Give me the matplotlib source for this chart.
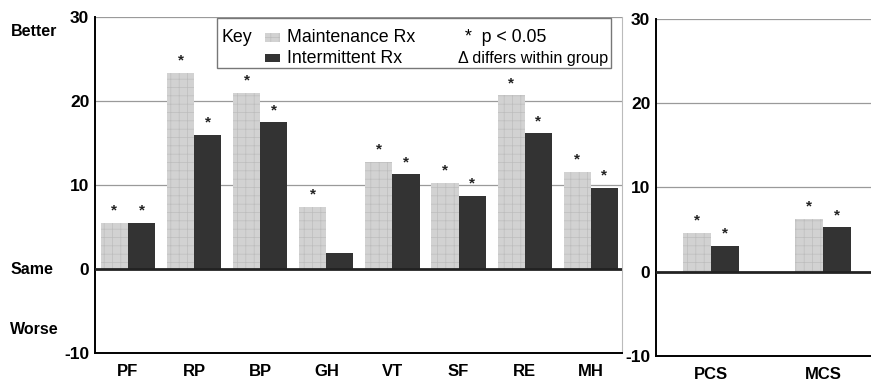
import numpy as np
import matplotlib
matplotlib.use("Agg")
import matplotlib.pyplot as plt
from matplotlib.patches import Rectangle

plt.rcParams['font.family'] = ['Liberation Sans', 'DejaVu Sans']
plt.rcParams['hatch.linewidth'] = 0.5
plt.rcParams['axes.unicode_minus'] = False

# ---------------------------------------------------------------------------
# Data
# ---------------------------------------------------------------------------
scales = ["PF", "RP", "BP", "GH", "VT", "SF", "RE", "MH"]
maint_scales = [5.5, 23.4, 21.0, 7.4, 12.8, 10.3, 20.7, 11.6]
interm_scales = [5.5, 16.0, 17.5, 1.9, 11.3, 8.7, 16.2, 9.7]
maint_sig_scales = [True, True, True, True, True, True, True, True]
interm_sig_scales = [True, True, True, False, True, True, True, True]

summary = ["PCS", "MCS"]
maint_summary = [4.6, 6.3]
interm_summary = [3.1, 5.3]
maint_sig_summary = [True, True]
interm_sig_summary = [True, True]

yticks = [-10, 0, 10, 20, 30]

MAINT_C = "#d2d2d2"
MAINT_H = "#bdbdbd"
INTERM_C = "#333333"


def draw_panel(ax, cats, m, i, msig, isig, width, xlim):
    x = np.arange(len(cats))
    ax.bar(x - width / 2, m, width, color=MAINT_C, edgecolor=MAINT_H,
           hatch="++", linewidth=0, zorder=3)
    ax.bar(x + width / 2, i, width, color=INTERM_C, linewidth=0, zorder=3)
    for xs, vals, sig in ((x - width / 2, m, msig), (x + width / 2, i, isig)):
        for xi, v, s in zip(xs, vals, sig):
            if s:
                ax.text(xi, v + 0.6, "*", ha="center", va="bottom", fontsize=11,
                        fontweight="bold", color="#222222")
    ax.set_xlim(*xlim)
    ax.set_ylim(-10, 30)
    ax.set_yticks(yticks)
    ax.set_xticks(x)
    ax.set_xticklabels(cats, fontweight="bold", fontsize=12)
    for lab in ax.get_yticklabels():
        lab.set_fontweight("bold")
        lab.set_fontsize(12.5)
    ax.tick_params(axis="y", length=0, pad=4)
    ax.tick_params(axis="x", length=0, pad=8)
    for y in (10, 20, 30):
        ax.axhline(y, color="#9a9a9a", lw=0.9, zorder=1)
    ax.axhline(0, color="#222222", lw=2.0, zorder=4)
    ax.spines["top"].set_visible(False)
    ax.spines["right"].set_color("#bbbbbb")
    ax.spines["right"].set_linewidth(0.8)
    ax.spines["left"].set_linewidth(1.4)
    ax.spines["bottom"].set_linewidth(1.4)


fig = plt.figure(figsize=(8.71, 3.81), dpi=100)
ax1 = fig.add_axes([0.109, 0.0735, 0.605, 0.8815])
ax2 = fig.add_axes([0.753, 0.066, 0.25, 0.884])

draw_panel(ax1, scales, maint_scales, interm_scales, maint_sig_scales,
           interm_sig_scales, 0.41, (-0.5, 7.47))
draw_panel(ax2, summary, maint_summary, interm_summary, maint_sig_summary,
           interm_sig_summary, 0.25, (-0.49, 1.45))
ax2.spines["right"].set_visible(False)

# side labels
for txt, ypx in (("Better", 31), ("Same", 269), ("Worse", 330)):
    fig.text(0.012, 1 - ypx / 381, txt, ha="left", va="center",
             fontsize=11.5, fontweight="bold")

# key box
bx0, by0, bx1, by1 = 0.232, 0.848, 0.98, 0.997
ax1.add_patch(Rectangle((bx0, by0), bx1 - bx0, by1 - by0, transform=ax1.transAxes,
                        facecolor="white", edgecolor="#777777", lw=1.0, zorder=6))
fs = 12.8
r1, r2 = 0.940, 0.878
ax1.text(0.241, r1, "Key", transform=ax1.transAxes, fontsize=fs, va="center", zorder=7)
ax1.add_patch(Rectangle((0.323, r1 - 0.013), 0.028, 0.026, transform=ax1.transAxes,
                        facecolor=MAINT_C, edgecolor=MAINT_H, hatch="++", lw=0, zorder=7))
ax1.add_patch(Rectangle((0.323, r2 - 0.013), 0.028, 0.026, transform=ax1.transAxes,
                        facecolor=INTERM_C, lw=0, zorder=7))
ax1.text(0.364, r1, "Maintenance Rx", transform=ax1.transAxes, fontsize=fs, va="center", zorder=7)
ax1.text(0.364, r2, "Intermittent Rx", transform=ax1.transAxes, fontsize=fs, va="center", zorder=7)
ax1.text(0.702, r1, "*  p < 0.05", transform=ax1.transAxes, fontsize=fs, va="center", zorder=7)
ax1.text(0.689, r2, "\u0394 differs within group", transform=ax1.transAxes, fontsize=11.6,
         va="center", zorder=7)

fig.savefig("out.png", dpi=100)
